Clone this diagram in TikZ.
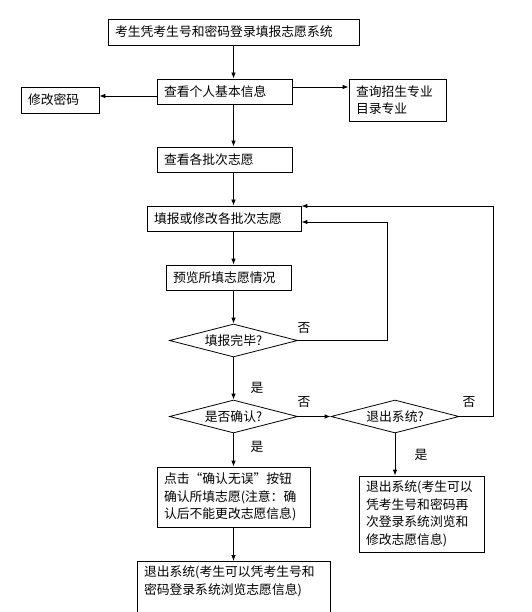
\documentclass[tikz,border=0pt]{standalone}
\usepackage{fontspec}
\setmainfont{Noto Sans CJK SC}
\usetikzlibrary{shapes.geometric}
\usetikzlibrary{arrows.meta}

\begin{document}
\begin{tikzpicture}[x=1pt,y=-1pt,
 font=\fontsize{12.8pt}{17.5pt}\selectfont,
 box/.style={draw,line width=.8pt,align=left,inner xsep=7pt,inner ysep=4pt},
 test/.style={draw,diamond,line width=.8pt,aspect=4,inner sep=0pt,minimum width=128pt,minimum height=33pt},
 arr/.style={line width=.8pt,-{Latex[length=6pt,width=4.5pt]}}]
 \useasboundingbox (0,0) rectangle (531,612);
 \coordinate (sp) at (233.5,0);

 \node[box,text width=237pt,minimum height=26pt] (login) at (233.5,32) {考生凭考生号和密码登录填报志愿系统};
 \node[box,text width=121pt,minimum height=25pt] (info) at (224.5,91.5) {查看个人基本信息};
 \node[box,text width=64pt,minimum height=26pt] (pwd) at (60,100) {修改密码};
 \node[box,text width=83pt,minimum height=42pt] (major) at (397.5,100) {查询招生专业\\目录专业};
 \node[box,text width=121pt,minimum height=25pt] (view) at (224.5,159.5) {查看各批次志愿};
 \node[box,text width=140pt,minimum height=25pt] (fill) at (224,218.5) {填报或修改各批次志愿};
 \node[box,text width=111pt,minimum height=25pt] (preview) at (228.5,277.5) {预览所填志愿情况};
 \node[test] (done) at (233.5,340.5) {填报完毕?};
 \node[test] (confirm) at (233.5,416.5) {是否确认?};
 \node[test] (quit) at (395,416.5) {退出系统?};
 \node[box,text width=139pt,minimum height=60pt] (click) at (233.5,497) {点击\makebox[1em][r]{“}确认无误\makebox[1em][l]{”}按钮\\确认所填志愿(注意：确\\认后不能更改志愿信息)};
 \node[box,text width=179pt,inner ysep=4.5pt,text height=11pt,text depth=31pt,anchor=north] (exitA) at (233.5,561) {退出系统(考生可以凭考生号和\\密码登录系统浏览志愿信息)};
 \node[box,text width=111pt,minimum height=76pt] (exitB) at (421.5,514) {退出系统(考生可以\\凭考生号和密码再\\次登录系统浏览和\\修改志愿信息)};

 \node (no1) at (304,327.5) {否};
 \node (yes1) at (257,387.5) {是};
 \node (no2) at (304,402) {否};
 \node (no3) at (469,402) {否};
 \node (yes2) at (257,446.5) {是};
 \node (yes3) at (421,454.5) {是};

 \coordinate (lpw) at (0,96);
 \coordinate (lq) at (0,87);
 \coordinate (r1) at (387,222);
 \coordinate (r2) at (493,206);

 \draw[arr] (login.south -| sp) -- (info.north -| sp);
 \draw[arr] (info.south -| sp) -- (view.north -| sp);
 \draw[arr] (view.south -| sp) -- (fill.north -| sp);
 \draw[arr] (fill.south -| sp) -- (preview.north -| sp);
 \draw[arr] (preview.south -| sp) -- (done.north);
 \draw[arr] (done.south) -- (confirm.north);
 \draw[arr] (confirm.south) -- (click.north);
 \draw[arr] (click.south) -- (exitA.north);
 \draw[arr] (info.west |- lpw) -- (pwd.east |- lpw);
 \draw[arr] (info.east |- lq) -- (major.west |- lq);
 \draw[arr] (done.east) -| (r1) -- (fill.east |- r1);
 \draw[arr] (confirm.east) -- (quit.west);
 \draw[arr] (quit.east) -| (r2) -- (fill.east |- r2);
 \draw[arr] (quit.south) -- (quit.south |- exitB.north);
\end{tikzpicture}
\end{document}
